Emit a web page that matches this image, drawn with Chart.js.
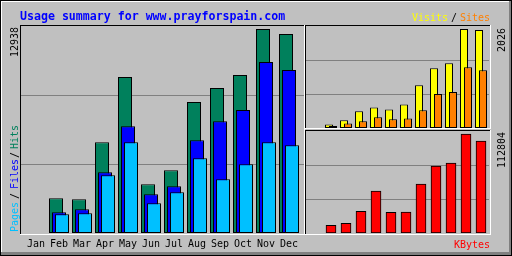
<!DOCTYPE html>
<html>
<head>
<meta charset="utf-8">
<title>Usage summary for www.prayforspain.com</title>
<script src="https://cdn.jsdelivr.net/npm/chart.js@4.4.0/dist/chart.umd.min.js"></script>
<style>
    html, body { margin: 0; padding: 0; background: #c0c0c0; }
    #quadro { position: relative; width: 512px; height: 256px; overflow: hidden; }
    canvas { position: absolute; }
    #main { left: 0; top: 0; }
    #visitas { left: 306px; top: 26px; }
    #kbytes { left: 306px; top: 131px; }
</style>
</head>
<body>
<div id="quadro">
    <canvas id="main" width="512" height="256"></canvas>
    <canvas id="visitas" width="183" height="102"></canvas>
    <canvas id="kbytes" width="183" height="102"></canvas>
</div>
<script>
// Meses e valores
const meses = ['Jan', 'Feb', 'Mar', 'Apr', 'May', 'Jun', 'Jul', 'Aug', 'Sep', 'Oct', 'Nov', 'Dec'];
const hits = [0, 2204, 2141, 5761, 9890, 3093, 3982, 8302, 9191, 10017, 12938, 12621];
const files = [0, 1315, 1505, 3856, 6777, 2458, 2966, 5888, 7095, 7794, 10843, 10335];
const pages = [0, 1188, 1251, 3665, 5761, 1886, 2585, 4745, 3411, 4364, 5761, 5571];
const visits = [0, 70, 159, 344, 420, 379, 482, 873, 1223, 1326, 2026, 2005];
const sites = [0, 41, 91, 138, 220, 179, 194, 364, 694, 735, 1244, 1182];
const kbytes = [0, 8800, 11086, 24801, 47659, 23650, 23700, 55659, 76231, 79660, 112804, 104804];

const titulo = 'Usage summary for www.prayforspain.com';

// Cores do webalizer
const corHits = '#00805c';
const corFiles = '#0000ff';
const corPages = '#00c0ff';
const corVisits = '#ffff00';
const corSites = '#ff8000';
const corKbytes = '#ff0000';

Chart.defaults.font.family = '"DejaVu Sans Mono", monospace';

// Linhas da grade em 1/3 e 2/3 do eixo, de ponta a ponta do painel
const linhasGrade = {
    id: 'linhasGrade',
    beforeDatasetsDraw(chart, args, opts) {
        const ctx = chart.ctx;
        const y = chart.scales.y;
        ctx.save();
        ctx.fillStyle = '#808080';
        [1, 2].forEach(function (k) {
            const py = Math.round(y.getPixelForValue(y.max * k / 3));
            ctx.fillRect(opts.x0, py, opts.x1 - opts.x0, 1);
        });
        ctx.restore();
    }
};

// Desenha as séries na ordem do array (a última fica por cima)
const ordemDesenho = {
    id: 'ordemDesenho',
    beforeDatasetsDraw(chart) {
        chart.data.datasets.forEach(function (ds, i) {
            const meta = chart.getDatasetMeta(i);
            if (!meta.hidden) {
                meta.controller.draw();
            }
        });
        return false;
    }
};

function painel(ctx, x0, y0, x1, y1) {
    ctx.fillStyle = '#000';
    ctx.fillRect(x0, y0, x1 - x0, 1);
    ctx.fillRect(x0, y0, 1, y1 - y0);
    ctx.fillStyle = '#fff';
    ctx.fillRect(x0, y1, x1 - x0 + 1, 1);
    ctx.fillRect(x1, y0, 1, y1 - y0 + 1);
}

function textoVertical(ctx, texto, x, y, cor, alinhamento) {
    ctx.save();
    ctx.translate(x, y);
    ctx.rotate(-Math.PI / 2);
    ctx.textAlign = alinhamento;
    ctx.fillStyle = cor;
    ctx.fillText(texto, 0, 0);
    ctx.restore();
}

// Moldura, painéis e textos em volta dos gráficos
const moldura = {
    id: 'moldura',
    beforeDraw(chart) {
        const ctx = chart.ctx;
        ctx.save();
        ctx.fillStyle = '#c0c0c0';
        ctx.fillRect(0, 0, 512, 256);
        ctx.fillStyle = '#000';
        ctx.fillRect(0, 0, 512, 1);
        ctx.fillRect(0, 0, 1, 256);
        ctx.fillStyle = '#fff';
        ctx.fillRect(1, 1, 510, 1);
        ctx.fillRect(1, 1, 1, 254);
        ctx.fillStyle = '#808080';
        ctx.fillRect(509, 1, 2, 254);
        ctx.fillRect(1, 252, 510, 3);
        ctx.fillStyle = '#000';
        ctx.fillRect(511, 0, 1, 256);
        ctx.fillRect(0, 255, 512, 1);

        painel(ctx, 20, 25, 304, 234);
        painel(ctx, 305, 25, 490, 128);
        painel(ctx, 305, 130, 490, 234);
        ctx.restore();
    },
    afterDraw(chart) {
        const ctx = chart.ctx;
        ctx.save();
        ctx.textBaseline = 'alphabetic';

        ctx.font = 'bold 11.6px "DejaVu Sans Mono"';
        ctx.fillStyle = corFiles;
        ctx.textAlign = 'left';
        ctx.fillText(titulo, 20, 20);

        ctx.font = '10px "DejaVu Sans Mono"';
        ctx.fillStyle = corVisits;
        ctx.fillText('Visits', 412, 21);
        ctx.fillStyle = '#000';
        ctx.fillText('/', 451, 21);
        ctx.fillStyle = corSites;
        ctx.fillText('Sites', 460, 21);

        ctx.textAlign = 'right';
        ctx.fillStyle = corKbytes;
        ctx.fillText('KBytes', 490, 248);

        // Rótulos verticais
        textoVertical(ctx, String(Math.max(...hits)), 18, 27, '#000', 'right');
        textoVertical(ctx, String(Math.max(...visits)), 505, 28, '#000', 'right');
        textoVertical(ctx, String(Math.max(...kbytes)), 505, 132, '#000', 'right');
        textoVertical(ctx, 'Pages', 18, 232, corPages, 'left');
        textoVertical(ctx, '/', 18, 199, '#000', 'left');
        textoVertical(ctx, 'Files', 18, 189, corFiles, 'left');
        textoVertical(ctx, '/', 18, 158, '#000', 'left');
        textoVertical(ctx, 'Hits', 18, 149, corHits, 'left');
        ctx.restore();
    }
};

const estiloBarra = { borderColor: '#000', borderWidth: 1, borderSkipped: false };

// Gráfico principal: Hits / Files / Pages
new Chart(document.getElementById('main'), {
    type: 'bar',
    data: {
        labels: meses,
        datasets: [
            { label: 'Hits', data: hits, backgroundColor: corHits },
            { label: 'Files', data: files, backgroundColor: corFiles },
            { label: 'Pages', data: pages, backgroundColor: corPages }
        ]
    },
    options: {
        responsive: false,
        animation: false,
        devicePixelRatio: 1,
        layout: { padding: { left: 24.5, right: 211.5, top: 26, bottom: 0 } },
        datasets: {
            bar: Object.assign({ categoryPercentage: 9 / 23, barPercentage: 14 / 3 }, estiloBarra)
        },
        plugins: {
            legend: { display: false },
            tooltip: { enabled: false },
            linhasGrade: { x0: 21, x1: 304 }
        },
        scales: {
            x: {
                grid: { display: false, drawTicks: false },
                border: { display: false },
                ticks: {
                    color: '#000',
                    font: { size: 10 },
                    padding: 5,
                    autoSkip: false,
                    maxRotation: 0
                },
                afterFit: function (scale) { scale.height = 23; }
            },
            y: { display: false, min: 0, max: 13128 }
        }
    },
    plugins: [moldura, linhasGrade, ordemDesenho]
});

// Visits / Sites
new Chart(document.getElementById('visitas'), {
    type: 'bar',
    data: {
        labels: meses,
        datasets: [
            { label: 'Visits', data: visits, backgroundColor: corVisits },
            { label: 'Sites', data: sites, backgroundColor: corSites }
        ]
    },
    options: {
        responsive: false,
        animation: false,
        devicePixelRatio: 1,
        layout: { padding: { left: 2.5, right: 0.5, top: 0, bottom: 0 } },
        datasets: {
            bar: Object.assign({ categoryPercentage: 8 / 15, barPercentage: 2 }, estiloBarra)
        },
        plugins: {
            legend: { display: false },
            tooltip: { enabled: false },
            linhasGrade: { x0: 0, x1: 183 }
        },
        scales: {
            x: { display: false },
            y: { display: false, min: 0, max: 2087 }
        }
    },
    plugins: [linhasGrade, ordemDesenho]
});

// KBytes
new Chart(document.getElementById('kbytes'), {
    type: 'bar',
    data: {
        labels: meses,
        datasets: [
            { label: 'KBytes', data: kbytes, backgroundColor: corKbytes }
        ]
    },
    options: {
        responsive: false,
        animation: false,
        devicePixelRatio: 1,
        layout: { padding: { left: 2.5, right: 0.5, top: 0, bottom: 0 } },
        datasets: {
            bar: Object.assign({ barThickness: 10 }, estiloBarra)
        },
        plugins: {
            legend: { display: false },
            tooltip: { enabled: false },
            linhasGrade: { x0: 0, x1: 183 }
        },
        scales: {
            x: { display: false },
            y: { display: false, min: 0, max: 116222 }
        }
    },
    plugins: [linhasGrade]
});
</script>
</body>
</html>
